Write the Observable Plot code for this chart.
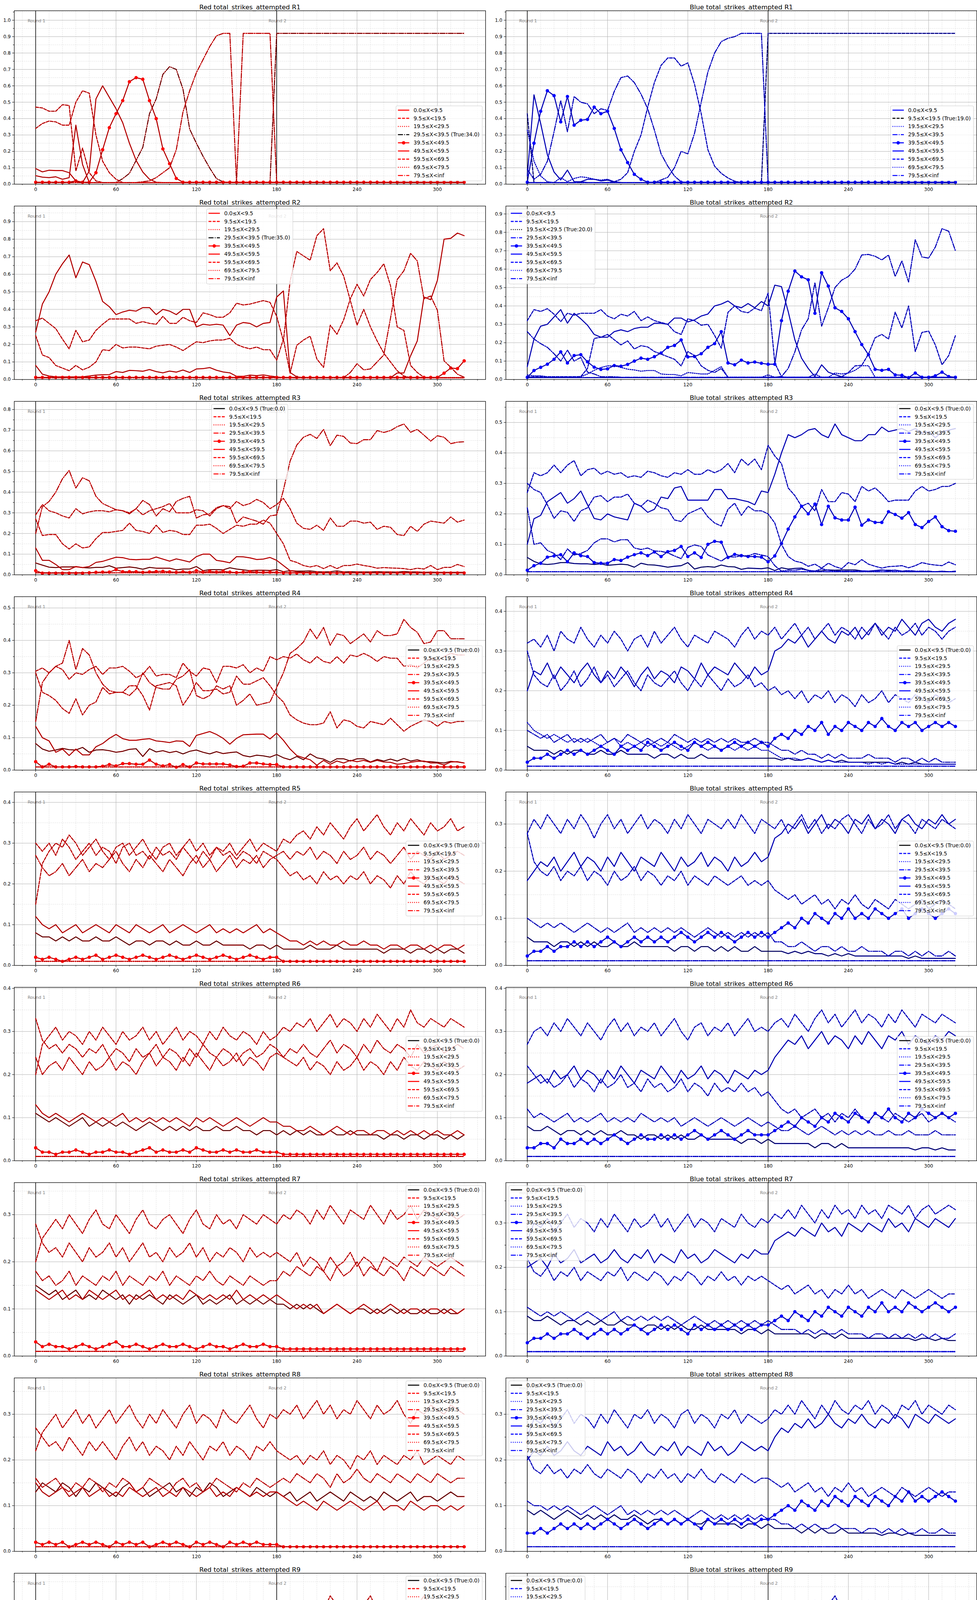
<!DOCTYPE html>
<html><head><meta charset="utf-8">
<script src="https://cdn.jsdelivr.net/npm/d3@7"></script>
<script src="https://cdn.jsdelivr.net/npm/@observablehq/plot@0.6"></script>
<style>
body{margin:0;background:#fff;}
#root{display:grid;grid-template-columns:1250px 1250px;width:2500px;}
#root svg{display:block;}
</style></head><body><div id="root"></div>
<script>
// ---------- axis / category data ----------
const xs = [0,5,10,15,20,25,30,35,40,45,50,55,60,65,70,75,80,85,90,95,100,105,110,115,120,125,130,135,140,145,150,155,160,165,170,175,180,185,190,195,200,205,210,215,220,225,230,235,240,245,250,255,260,265,270,275,280,285,290,295,300,305,310,315,320];
const binLabels = ["0.0≤X<9.5","9.5≤X<19.5","19.5≤X<29.5","29.5≤X<39.5","39.5≤X<49.5","49.5≤X<59.5","59.5≤X<69.5","69.5≤X<79.5","79.5≤X<inf"];
const majorX = [0,60,120,180,240,300];
const minorX = [-10,10,20,30,40,50,70,80,90,100,110,130,140,150,160,170,190,200,210,220,230,250,260,270,280,290,310,320,330];
const majorY = [0,0.1,0.2,0.3,0.4,0.5,0.6,0.7,0.8,0.9,1.0];
const minorY = [0.05,0.15,0.25,0.35,0.45,0.55,0.65,0.75,0.85,0.95,1.05];
const roundX = [0,180];
const roundLabels = ["Round 1","Round 2"];

// floor series (values in percent)
const F1 = [1,1,1,1,1,1,1,1,1,1, 1,1,1,1,1,1,1,1,1,1, 1,1,1,1,1,1,1,1,1,1, 1,1,1,1,1,1,1,1,1,1, 1,1,1,1,1,1,1,1,1,1, 1,1,1,1,1,1,1,1,1,1, 1,1,1,1,1];

// ---------- Red R1 (percent) ----------
const red_R1 = [
 [5.2,4.3,4,4.5,3,4,36,12,1,1, 1,1,1,1,1,1,1,1,1,1, 1,1,1,1,1,1,1,1,1,1, 1,1,1,1,1,1,1,1,1,1, 1,1,1,1,1,1,1,1,1,1, 1,1,1,1,1,1,1,1,1,1, 1,1,1,1,1],
 [47,46.5,44.5,44.5,48.5,48,8,22,7,2, 1,1,1,1,1,1,1,1,1,1, 1,1,1,1,1,1,1,1,1,1, 1,1,1,1,1,1,1,1,1,1, 1,1,1,1,1,1,1,1,1,1, 1,1,1,1,1,1,1,1,1,1, 1,1,1,1,1],
 F1,
 [1,1,1,1,1,1,1,1,1,1, 1,1,1,3.4,6.6,14.5,22.5,43,52,67, 71.7,70,58,33.6,25,17,9.8,3.4,1.4,1, 1,1,1,1,1,1,92,92,92,92, 92,92,92,92,92,92,92,92,92,92, 92,92,92,92,92,92,92,92,92,92, 92,92,92,92,92],
 [1.2,1.2,1.2,1.2,1.2,1.2,2,1.2,1.2,7, 21,34.5,43,51,62.5,65,64,51,40,21.5, 12.5,3.5,1.2,1.2,1.2,1.2,1.2,1.2,1.2,1.2, 1.2,1.2,1.2,1.2,1.2,1.2,1.2,1.2,1.2,1.2, 1.2,1.2,1.2,1.2,1.2,1.2,1.2,1.2,1.2,1.2, 1.2,1.2,1.2,1.2,1.2,1.2,1.2,1.2,1.2,1.2, 1.2,1.2,1.2,1.2,1.2],
 [9.5,7.5,8.5,8.3,8.3,7,2,1,8,52, 60,53,46,37.5,25,14.5,7.4,3,1.2,1, 1,1,1,1,1,1,1,1,1,1, 1,1,1,1,1,1,1,1,1,1, 1,1,1,1,1,1,1,1,1,1, 1,1,1,1,1,1,1,1,1,1, 1,1,1,1,1],
 [34,37,38.5,38,36,36,50,57,55.5,30, 14,7,3,1,1,1,1,1,1,1, 1,1,1,1,1,1,1,1,1,1, 1,1,1,1,1,1,1,1,1,1, 1,1,1,1,1,1,1,1,1,1, 1,1,1,1,1,1,1,1,1,1, 1,1,1,1,1],
 F1,
 [1,1,1,1,1,1,1,1,1,1, 1,1,1,1,1,1,1.5,2,4,7, 10,21,44,57,68,76,84,90.5,92,92, 1,92,92,92,92,92,1,1,1,1, 1,1,1,1,1,1,1,1,1,1, 1,1,1,1,1,1,1,1,1,1, 1,1,1,1,1]
];

// ---------- Blue R1 ----------
const blue_R1 = [
 [5,54.5,37,18,7.4,2.6,8.6,1.5,1.5,1, 1,1,1,1,1,1,1,1,1,1, 1,1,1,1,1,1,1,1,1,1, 1,1,1,1,1,1,1,1,1,1, 1,1,1,1,1,1,1,1,1,1, 1,1,1,1,1,1,1,1,1,1, 1,1,1,1,1],
 [43,1,1,1,1,1,1,1,1,1, 1,1,1,1,1,1,1,1,1,1, 1,1,1,1,1,1,1,1,1,1, 1,1,1,1,1,1,92,92,92,92, 92,92,92,92,92,92,92,92,92,92, 92,92,92,92,92,92,92,92,92,92, 92,92,92,92,92],
 [33,14,5,1.5,1,4,1.5,3.5,4.5,4, 3,2.5,3,1.5,1,1,1,1,1,1, 1,1,1,1,1,1,1,1,1,1, 1,1,1,1,1,1,1,1,1,1, 1,1,1,1,1,1,1,1,1,1, 1,1,1,1,1,1,1,1,1,1, 1,1,1,1,1],
 [9,3,6,14,32,51,32,53.5,50,49, 43,46,45,56.6,65,66,62,55,46,33, 18.5,11,5,1.4,1,1,1,1,1,1, 1,1,1,1,1,1,1,1,1,1, 1,1,1,1,1,1,1,1,1,1, 1,1,1,1,1,1,1,1,1,1, 1,1,1,1,1],
 [1.2,25,44.5,57,54,38,53.5,36,39,39.5, 47,43,44.5,34,21,13.2,6,3,1.2,1.2, 1.2,1.2,1.2,1.2,1.2,1.2,1.2,1.2,1.2,1.2, 1.2,1.2,1.2,1.2,1.2,1.2,1.2,1.2,1.2,1.2, 1.2,1.2,1.2,1.2,1.2,1.2,1.2,1.2,1.2,1.2, 1.2,1.2,1.2,1.2,1.2,1.2,1.2,1.2,1.2,1.2, 1.2,1.2,1.2,1.2,1.2],
 [1,1,1,1,1,1,1,1,1.5,3, 3,2,2.5,1.5,1,1,1,1,1,1, 1,1,1,1,1,1,1,1,1,1, 1,1,1,1,1,1,1,1,1,1, 1,1,1,1,1,1,1,1,1,1, 1,1,1,1,1,1,1,1,1,1, 1,1,1,1,1],
 [1,1,1,1,1,1,1,1,1,1, 1,1,1,1.5,3,7,20,30,47,62, 72.5,77,77,72,74,61,43,21,11,6.6, 3.8,1.8,1,1,1,1,1,1,1,1, 1,1,1,1,1,1,1,1,1,1, 1,1,1,1,1,1,1,1,1,1, 1,1,1,1,1],
 F1,
 [1,1,1,1,1,1,1,1,1,1, 1,1,1,1,1,1,1,1,1,1, 2.6,4.2,10,20,18.5,31,50,68.5,80,87, 89,90,92,92,92,92,1,1,1,1, 1,1,1,1,1,1,1,1,1,1, 1,1,1,1,1,1,1,1,1,1, 1,1,1,1,1]
];

// ---------- Red R2 ----------
const red_R2 = [
 [8,3,2,1.5,1.5,1.5,1.5,1.5,2,2.5, 2.7,2.8,4.5,4,5.2,5,4.7,5.7,4.5,3.8, 4.8,4.2,5.4,4,6,6.2,6.8,5.3,4.3,3.8, 1.8,1.8,2.5,2.2,2.6,2,1.5,1,1,1, 1,1,1,1,1,1,1,1,1,1, 1,1,1,1,1,1,1,1,1,1, 1,1,1,1,1],
 [25,14,12.5,8,6.5,5,8,5.5,7,10, 17,16.5,20,18,18.5,18.5,18,17.5,19,19.5, 20,18.5,16.5,19,21.5,21,22,22.5,22.5,23.5, 20,18.5,17.5,18.5,17,17,11,23,3.5,19.5, 22.5,24.7,11.7,6.9,31,25.8,34,46,54.3,47.6, 57,61,66,53.5,30,28,8,4,1.2,1, 1,1,1,1,1],
 F1,
 F1,
 [1.2,1.2,1.2,1.2,1.2,1.2,1.2,1.2,1.2,1.2, 1.2,1.2,1.2,1.2,1.2,1.2,1.2,1.2,1.2,1.2, 1.2,1.2,1.2,1.2,1.2,1.2,1.2,1.2,1.2,1.2, 1.2,1.2,1.2,1.2,1.2,1.2,1.2,1.2,1.2,1.2, 1.2,1.2,1.2,1.2,1.2,1.2,1.2,1.2,1.2,1.2, 1.2,1.2,1.2,1.2,1.2,1.2,1.2,1.2,1.2,1.2, 1.2,3.6,6.5,6.2,10.6],
 [27,43,50,60,66,71,58,67,65.5,56, 44.5,41.5,37,38.5,39.5,39,41,41,37,40, 39,37,40,40,30,31.5,31,31.5,31,25, 31,32.5,32,30,32,32.5,47,50.5,4,1.5, 1,1,1,1,1,1,1,1,1,1, 1,1,1,1,3.7,3.7,13.5,22,47,45.5, 56.5,80,80.5,83.5,82],
 [33.5,35,32,29,23,17.5,28,21.5,22.5,28, 31.5,34.5,34.5,34.5,34.5,32,33,32,31.5,36, 32,32,35.5,33.5,32.5,38,37,35.5,35.5,38, 43.5,42.5,43,44,45,44,36,22,56,73, 70.5,68,82,86,62,66.5,59,45,31,40, 30,22,15,10,5,2,1,1,1,1, 1,1,1,1,1],
 F1,
 [1,1,1,1,1,1,1,1,1,1, 1,1,1,1,1,1,1,1,1,1, 1,1,1,1,1,1,1,1,1,1, 1,1,1,1,1,1,1,1,1,1, 1,1,1,1,1,1,1,4,9,5.5, 6,10,14,35,57,62,72,67.6,46,47.6, 39.5,10.6,7,3,1.3]
];

// ---------- Blue R2 ----------
const blue_R2 = [
 [7,22,29,30,34,38,30.6,36,33,29.5, 24.5,23,23,26,27,26,27.7,28.4,28.4,30.6, 30.6,30,33.4,33.4,31.3,32.4,34.5,35.6,40,41, 42.7,40,39,41.3,39,42.4,40,51.3,50.5,37, 21.6,11.6,6,1.6,8,4,2.7,1.5,1.2,1, 1,1,1,1,1,1,1,1,1,1, 1,1,1,1,1],
 [32,38,37,38.5,35.5,31.5,36,35,36,36, 36,38,34.5,33,35.5,34.5,37,32,34,32, 31,30,26,24.5,33,32,29.5,30,24,17, 36.5,40,37,36.3,38.8,37.4,47,9,1.5,1, 1,1,1,1,1,1,1,1,1,1, 1,1,1,1,1,1,1,1,1,1, 1,1,1,1,1],
 F1,
 [26,22,19.5,17.5,14,10,16,10,12,4, 3,1.5,1.5,1.5,1.2,1.2,1.2,1.2,1.2,1.2, 1.2,1.2,1.2,1.2,1.2,1.2,1.2,1.2,1.2,1.2, 1.2,1.2,1.2,1.2,1.2,1.2,1.2,1.2,1.2,1.2, 1.2,1.2,1.2,1.2,1.2,1.2,1.2,1.2,1.2,1.2, 1.2,1.2,1.2,1.2,1.2,1.2,1.2,1.2,1.2,1.2, 1.2,1.2,1.2,1.2,1.2],
 [1.2,4.9,6.6,8.3,11,15,9,13,13.5,9.6, 6.7,5.5,5.8,7.6,7.2,8.2,10,11.6,11,12.4, 14.4,17.5,18.5,21.5,12.3,12.5,14,17.5,19.5,26, 9,8,10.5,9,9.5,8.8,8.3,8.3,32,48, 59,55.8,54.2,36,58,50.8,39,37,33,26, 19,13.5,5.5,5,5.5,2.5,2.3,1,3.5,1.2, 1.2,2,4,1.6,1.2],
 F1,
 [1.5,1.5,1.5,1.5,1.5,1.5,1.5,1.5,1.6,6, 22.3,23,24.5,21.6,18.8,21,16.6,18.4,17.7,15.2, 13.8,12.4,11,7.4,15.2,13,7.4,5,3.8,6, 1.2,1.2,1.2,1.2,1.2,1.2,1.2,1.2,1.2,1.2, 1.2,1.2,1.2,1.2,1.2,1.2,1.2,1.5,3.8,7.4, 7.7,13.8,22.7,24.5,22,36.6,28,40,15.2,25.6, 26.3,18.8,8,13,23.8],
 [2.5,2,2,1.5,1.5,1.5,1.5,1.5,1.5,3, 5,6.5,7.4,7.4,6.6,5.6,5.2,4.5,4.9,4.9, 3,2.7,2.7,2,3.8,3.4,3,3,5,7, 1.2,1.2,1.2,1.2,1.2,1.2,2.5,1.2,1.2,1.2, 1.2,1.2,1.2,3,1.2,1.2,3.5,3,3.5,5, 7.5,7.5,1.2,1.2,1.2,1.2,1.2,1.2,1.2,1.2, 1.2,1.2,1.2,1.2,1.2],
 [1,1,1,1,1,1,1,1,1,1, 1,1,1,1,1,1,1,1,1,1, 1,1,1,1,1,1,1,1,1,1, 1,1,1,1,1,1,1,1.2,1.6,6, 15,27,33,52.7,29,39,50,54,56,60, 67.7,68,67,65,67.7,56,64.5,53,76,66.6, 66,72,82,80.6,70]
];

// ---------- Red R3 ----------
const red_R3 = [
 [5.7,4.7,3.7,3.5,3.8,3.8,3.9,3.5,3.3,3.6, 3.6,4.4,3.2,3.5,3.8,3.4,2.7,3.6,3.2,3.2, 3.2,2.4,2.8,2.8,4,2,2.5,2.5,2.4,3.4, 2.8,2.4,2,2.2,2.2,2.1,2.5,1.5,2,1.8, 1.8,1.9,1.5,1.4,1.5,1.9,1.4,1.5,1.4,1.4, 1.4,1.5,1.4,1.4,1.3,1.6,1.4,1.4,1.2,1.3, 1.2,1.2,1.2,1.2,1.2],
 [29,34,31,30,28.5,27.5,32,29.5,30.5,31, 31,30.5,31.5,31,30,32,29,31,32,33, 34.5,30,30,30,31.5,31,28.5,32,33.5,32, 35.5,33.5,34.5,36.5,35,32,34,37,32,25, 22.5,22,24,21.5,27.5,23.5,23.5,26,26,25, 25.5,22,23.5,23,19.5,19,23.5,21,24.5,26, 25.5,25,28,25.5,26.5],
 F1,
 F1,
 [2,0.8,0.8,0.8,0.8,0.8,0.8,0.8,1,1.2, 1.3,1.3,2.5,1.5,1.5,1.5,1.2,1.4,1.6,1.7, 1.4,1.2,1.5,1.2,2,1.3,1.7,1.3,1.7,1.3, 1.1,1.3,1.5,1.3,1.2,1.3,1.2,0.9,0.9,0.9, 0.9,0.9,0.9,0.9,0.9,0.9,0.9,0.9,0.9,0.9, 0.9,0.9,0.9,0.9,0.9,0.9,0.9,0.9,0.9,0.9, 0.9,0.9,0.9,0.9,0.9],
 [13,7,7,5,2.5,2.5,4,3.5,4,6, 6.5,7.5,8.5,8.3,7.5,7.3,7.5,7.5,8.6,7.6, 6.6,7.7,7,6.2,8.8,10,10,7,6.5,5.8, 8.8,8.7,8.2,7.4,7.6,8.4,7,4.5,2,1.5, 1.2,1.2,1,1,1,1,1,1,1,1, 1,1,1,1,1,1,1,1,1,1, 1,1,1,1,1],
 [27,19,19.5,19.5,15,12.5,15,13,13.5,17.5, 20.5,20.5,21,21.5,25,21.5,21,20,24,20.5, 21.5,21,19.5,19.5,24,24,24.5,22.5,20,22, 24,23.5,24.5,24.5,26.5,25,20,15,7,6, 4.5,3.8,4.5,3,4.5,3,4.5,4.5,5.2,4.5, 4,3.2,3.5,3.3,3.2,3,2.5,3.2,2.8,4.5, 2.5,3.6,3.6,5,4],
 F1,
 [20,33,35.5,40,46.5,50.5,42,47,45.5,38, 34.5,33,31.5,31,29.5,32,36,34,28.5,32, 30.5,35.5,37,38,27.5,29,29.5,32.5,33.5,33, 25,28,27,26,24.5,28.5,29,41,55,62.8, 66.6,68,66,70.4,62.5,67.6,67,63.8,63.5,65.4, 65.4,69.8,68.9,69.8,71.7,73,69,70.4,67.6,64.7, 67.3,66.6,63.5,64.2,64.4]
];

// ---------- Blue R3 ----------
const blue_R3 = [
 [5.7,4.4,3.6,3.4,3.6,4,4,3.7,3.6,3.6, 3.4,3.6,3.1,3.3,3.5,3.3,2.5,3.8,3.3,3.2, 2.9,2.5,2.8,3,4,1.9,2.5,2.7,2.5,3.2, 2.7,2.6,1.8,2.2,2.1,2,2.3,1.4,2.3,1.9, 2.1,2.2,1.4,1.2,1.3,1.6,1.5,1.6,1.6,1.6, 1.3,1.2,1.4,1.6,1.3,1.5,1.2,1.1,1,1, 1,1,1.1,1,1],
 [27,33.5,32.5,33.5,36,33.5,36,37.5,32.5,34.5, 35,33,34,33,33.5,32,32.5,32,34,33.5, 32.5,32,33.5,33,34.5,33,33,34.5,33.5,34.5, 36.5,33.5,38,36,38,34.5,42.5,39,36.5,28.5, 26,22.5,23.5,21,28,24,24,27,26.5,24, 29,27.5,28.5,26.5,24,24.5,24.5,24.5,27.5,29, 27.5,28,29,29,30],
 F1,
 F1,
 [1.5,3,3.8,5.8,6.2,6.6,4.3,7.2,6.3,6, 4,3.8,3.8,5,4.7,5.8,6.6,7.2,6.3,7.5, 6,7.6,8,9.3,6,7.2,5.7,10,11,10.7, 5.7,6.7,6.3,6,6,5.8,4.3,6.2,10.3,15, 19,22.5,20,23.2,16.5,22.5,18.7,18,18,22.2, 16.3,18,17.2,17.2,20.7,19.8,18.6,20.4,16.5,15.5, 17.5,19,15.8,14.5,14.3],
 [10,18.4,19.5,24,25.5,27,23.5,25,27.5,23, 18.5,18,20,19,18.5,18,23.5,22.5,20.5,21.5, 25.5,25,28.5,29,24.5,24.5,24.5,24.5,28,28, 25,25,24.5,24,23,27.5,27,33,40,46, 45,46,47.5,48,46,45,49.5,46,45,44, 44,46,46,48.5,47,47.5,48,47,48,46.5, 47,45,47,47.5,48],
 [30,28,27,23,18.5,21,20.5,17.5,21,22, 25.5,26,24,25.5,25.5,26.5,23.5,22.5,24.5,23.5, 22,21.5,18,17.5,20,21,22,19,17,16, 21.5,23.5,19.5,22.5,21,21,20,17,10,6, 4.5,4,2.8,3.5,2.2,3.8,2.7,2,4,3.3, 5,3.5,2.8,2.2,2.7,2.8,3,2.3,3,4, 3.5,3.2,3,4.2,3.3],
 F1,
 [22,10,10.5,8,7,5,8.5,6.5,7,8, 10.5,11.8,11.8,10.8,11.5,11.5,8.8,8.3,8.8,7.8, 7.7,7.2,6.2,5.3,9,9.8,9.3,6.5,5.5,4.5, 6,5.8,6.3,6.2,7,6.5,6,3,1.2,1.5, 1.5,1.8,1.5,1.2,2,1.5,1.2,1.2,1.2,1.2, 1.2,1.2,1.3,1.5,1.5,1.5,1.2,1.4,1.2,1.2, 1.2,1,1.2,1,1.2]
];

// ---------- Red R4 ----------
const red_R4 = [
 [8.2,6.5,5.8,6.2,6.7,6.3,6.2,7,5.5,6.2, 6.3,6,5.5,5.8,6.4,6.6,4.2,6.6,5.6,6, 5.4,5.8,5,5.8,6.2,5.5,5,5.7,5.1,5.4, 5.6,4.5,4.1,4.6,4.4,4,4.8,3.8,3.2,4.2, 3.2,5,3.8,3.4,2.4,3.5,3.5,2.8,3.5,3.5, 2.5,3.3,2.8,3.4,2.8,3.6,2.8,3.2,2.6,2.6, 2.4,2.2,2.7,2.5,2.2],
 [30.5,31.5,30,32,31,28,30,29.5,31,32, 29.5,31.5,31.5,32,30.5,28.5,29.5,32,29,29.5, 29.5,28.5,33,30.5,29,31.5,31,27,32,32, 31.5,32.5,30,31.5,30.5,35,34,35,34.5,35.8, 34,33,35,33.5,33,35,33,35.5,35,36, 35,33.5,35,34.5,34.5,32,32.5,31.5,33,34.5, 33.5,35,36,35.5,35.5],
 F1,
 F1,
 [2.6,1,1.8,1,1,1,1.1,1,1,1, 1.2,1.7,1.3,2,2,1.8,1.8,3.1,1.8,1.3, 1.7,0.9,1.7,1,2.2,1.9,1.9,1.9,1.9,1.6, 1.1,1.2,2.2,2.2,1.9,1.7,1.7,1,1,1, 1,1,1,1,1,1,1,1,1,1, 1,1,1,1,1,1,1,1,1,1, 1,1,1,1,1],
 [13.5,10,9,5.5,6.5,4.5,6.5,4.7,4.7,7.2, 8.2,9.8,11,9.7,9.2,9.2,9.5,9.7,9,8.8, 8.5,9,8.9,7.3,10.7,11.3,11.9,11,9.8,8, 9.8,10.9,11,11.1,11.1,9.6,11.4,9.2,6.5,4.5, 3.8,3.2,1.5,3,1.8,2.8,2.2,3,2.6,3, 2.4,3,2.5,2.4,1.8,2,2.4,2.7,2.8,2.2, 2.2,1.6,2.5,2.6,2.2],
 [30,24,23,21.5,19,17.5,22,17,20,21, 25.5,23.5,24,24,26,26,23,18.5,26,26.5, 27,26,20,23,27,24.5,24.5,25,23.5,24, 29,26.5,26.5,27.5,28.5,26,23,21,17,15.5, 14.5,14,14,14.5,18,13,15.5,15,13.5,13, 15,14.5,14,16,14,12,13.5,14.5,15.5,15, 13.5,15,14.5,15,15],
 F1,
 [15,27,30,32,33,40,31,37.5,35.5,30, 26.5,24.5,24,24,23,25,30,27,25.5,25, 25,28,29,31,23,22,23,26,25,26, 20,21.5,23.5,20,20.5,21,25.5,30,36,37.5, 39.5,43.5,40.5,44,38.5,42,41.5,39,40.5,42, 39.5,43,41.5,41.5,42,46.5,44,42.5,39,39.5, 43,43,40.5,40.5,40.5]
];

// ---------- Blue R4 ----------
const blue_R4 = [
 [6,5,5,5,4,5,4,5,5,4, 4,5,4,4,5,4,4,4,4,3, 4,4,3,4,3,3,4,3,3,3, 3,3,3,3,3,3,3,3,2.5,3, 2.5,2.5,3,2.5,2,2.5,2,2.5,2,2, 2,2,2,2,2,1.5,2,1.5,2,1.5, 1.5,1.5,1.5,1.5,1.5],
 [32,33,31,34,30,35,33,32,36,33, 31,34,32,35,33,30,33,34,31,35, 32,34,36,33,31,34,33,32,35,34, 33,31,34,36,33,35,34,36,33,35, 37,34,36,33,35,37,34,36,35,33, 36,34,37,35,33,36,34,35,37,34, 36,35,33,35,36],
 [12,10,9,8,9,8,7,8,7,8, 7,6,7,8,6,7,6,7,6,7, 6,7,6,5,6,7,6,5,6,5, 6,5,6,5,6,5,5,4,3,3, 3,2.5,3,2.5,2,2.5,2,2,2,2, 2,1.5,2,1.5,2,1.5,1.5,1.5,1.5,1.5, 1.5,1.5,1.5,1.5,1.5],
 F1,
 [2,3,3,4,3,4,5,4,5,4, 5,6,5,4,6,5,6,5,7,6, 5,6,7,6,5,7,6,7,6,5, 6,7,6,7,6,7,6,8,9,8, 10,9,11,10,12,9,11,10,12,11, 10,12,11,13,11,10,12,11,12,10, 11,12,11,12,11],
 [20,25,24,27,23,26,24,22,25,27, 24,22,25,23,26,24,21,24,26,23, 25,24,22,26,25,23,27,24,26,25, 24,27,25,23,26,24,25,30,31,33, 32,34,31,33,35,33,32,35,34,36, 33,35,37,34,36,35,38,36,34,37, 38,36,35,37,38],
 [30,24,22,21,24,20,22,25,21,23, 26,22,24,21,23,25,22,20,24,22, 21,23,25,22,20,23,21,24,22,20, 23,21,22,24,21,22,20,21,19,20, 18,20,17,19,18,20,17,19,18,16, 19,17,18,20,17,19,18,17,19,18, 17,19,18,17,18],
 F1,
 [10,9,8,9,7,8,9,7,8,7, 8,9,7,8,7,9,8,7,8,7, 8,7,9,8,7,8,7,8,7,8, 7,8,7,7,8,7,7,6,5,5, 4,5,4,4,3,4,3,4,3,3, 3,4,3,3,3,2,3,3,2,3, 2,3,2,2,2]
];

// ---------- Red R5 ----------
const red_R5 = [
 [8,7,7,6,7,6,7,6,6,7, 6,6,7,6,5,6,6,5,6,6, 5,6,5,5,6,5,5,6,5,5, 5,5,4,5,5,4,5,4,4,4, 4,5,4,4,4,5,4,4,4,4, 4,4,3,4,4,4,3,4,4,3, 4,3,4,4,3],
 [15,25,28,30,29,32,30,27,29,31, 28,26,29,30,27,29,31,28,26,29, 30,27,29,31,28,30,27,29,28,30, 27,29,31,28,30,29,28,31,30,32, 33,31,34,32,35,33,31,34,36,33, 35,37,34,32,35,33,36,34,32,35, 33,34,36,33,34],
 F1, F1,
 [2,1.5,2,1.5,1,1.5,2,1.5,2,2.5, 1.5,2,2.5,2,1.5,2,2.5,2,1.5,2, 2.5,2,1.5,2,2.5,2,1.5,2,2.5,2, 1.5,2,2.5,2,1.5,2,2,1,1,1, 1,1,1,1,1,1,1,1,1,1, 1,1,1,1,1,1,1,1,1,1, 1,1,1,1,1],
 [12,10,9,10,8,9,10,8,9,10, 9,8,10,9,8,10,9,8,9,10, 8,9,10,9,8,9,10,8,9,8, 9,8,9,10,8,9,8,7,6,6, 5,6,5,6,5,5,6,5,5,6, 5,5,4,5,5,4,5,5,4,5, 4,5,5,4,5],
 [30,28,30,27,31,29,26,28,30,27, 29,28,25,29,30,27,28,26,29,27, 28,26,29,27,25,28,26,29,27,28, 26,28,27,25,28,27,26,24,22,23, 21,22,20,23,21,22,20,22,21,23, 20,22,21,19,22,20,23,21,20,22, 21,20,22,21,20],
 F1,
 [27,24,22,23,25,22,24,26,23,25, 24,26,28,25,23,26,24,27,25,23, 26,24,22,25,27,24,26,23,25,27, 24,26,25,27,24,26,27,28,26,28, 27,29,26,28,27,25,28,26,27,29, 26,28,27,25,27,29,26,28,27,26, 28,26,27,28,27]
];

// ---------- Blue R5 ----------
const blue_R5 = [
 [6,5,5,5,4,5,5,4,5,4, 5,4,4,5,4,4,5,4,4,4, 4,4,3,4,4,3,4,4,3,4, 3,4,3,3,4,3,3,3,3,2.5, 3,2.5,3,2.5,2.5,2,2.5,2,2.5,2, 2,2,2,2,2,2,2,1.5,2,1.5, 1.5,1.5,1.5,1.5,1.5],
 [28,31,29,32,30,28,31,29,32,30, 27,30,32,29,31,28,30,32,29,31, 30,28,31,29,32,30,28,31,30,29, 31,29,32,30,28,31,30,29,31,28, 30,32,29,31,28,30,29,31,32,30, 28,31,29,30,32,29,31,30,28,31, 30,29,31,30,29],
 F1, F1,
 [2,3,3,4,3,4,4,5,4,5, 4,5,6,5,4,5,6,5,6,5, 6,5,6,7,6,5,6,7,6,7, 6,5,6,7,6,7,6,7,8,9, 8,10,9,11,10,9,11,10,12,10, 11,10,12,11,10,11,12,10,11,12, 11,10,11,12,11],
 [18,20,22,21,23,20,22,24,21,23, 22,20,23,21,24,22,20,23,22,21, 24,22,20,23,21,22,24,21,23,22, 20,23,21,22,24,22,23,27,28,30, 29,31,28,30,32,29,31,30,28,31, 30,32,29,31,30,28,31,32,30,29, 31,30,32,30,31],
 [28,22,20,19,21,18,20,19,21,18, 20,19,17,20,18,19,21,18,20,19, 17,19,18,20,17,19,18,17,19,18, 17,18,19,17,18,17,18,16,15,14, 15,13,14,15,13,14,12,14,13,15, 13,12,14,13,12,14,13,12,13,14, 12,13,14,13,12],
 F1,
 [10,9,8,9,8,9,8,7,8,9, 8,7,8,7,8,9,7,8,7,8, 7,8,7,8,7,6,7,8,7,6, 7,6,7,6,7,6,7,5,5,4, 4,5,4,3,4,4,3,4,3,3, 4,3,3,3,2,3,3,2,3,2, 3,2,2,3,2]
];

// ---------- Red R6 ----------
const red_R6 = [
 [11,10,9,10,9,8,9,10,8,9, 8,9,8,9,8,7,8,9,8,7, 8,7,8,7,8,7,7,8,7,7, 8,7,7,6,7,7,6,7,6,7, 6,7,6,6,7,6,6,7,6,6, 6,6,5,6,6,5,6,6,5,6, 6,5,6,5,6],
 [20,27,29,31,28,30,29,27,30,28, 31,29,27,30,28,29,31,28,30,27, 29,31,28,30,29,27,30,28,31,29, 28,30,29,27,30,28,29,31,30,32, 31,33,30,32,34,31,33,32,30,33, 31,34,32,30,33,31,35,32,31,33, 32,31,33,32,31],
 F1, F1,
 [3,2,2,1.5,2,2,2.5,2,1.5,2, 2,2.5,2,2,1.5,2,2.5,3,2,2.5, 2,2,2.5,2,3,2.5,2,2,2.5,2, 2.5,2,2,2.5,2,2,2,1.5,1.5,1.5, 1.5,1.5,1.5,1.5,1.5,1.5,1.5,1.5,1.5,1.5, 1.5,1.5,1.5,1.5,1.5,1.5,1.5,1.5,1.5,1.5, 1.5,1.5,1.5,1.5,1.5],
 [13,11,10,11,10,9,10,11,10,9, 10,9,10,11,9,10,9,10,9,10, 9,10,9,8,10,9,10,9,8,9, 10,9,8,9,10,9,9,8,8,7, 7,8,7,6,7,8,7,6,7,7, 6,7,7,6,7,6,7,6,7,6, 7,6,6,7,6],
 [33,28,26,27,25,27,26,24,26,25, 27,24,26,25,23,26,24,25,27,24, 26,25,23,26,24,27,25,24,26,25, 23,25,26,24,25,27,26,24,23,22, 24,21,23,22,20,23,21,22,24,21, 23,22,20,23,21,24,22,21,23,22, 21,23,22,21,22],
 F1,
 [24,20,22,23,21,24,22,20,23,21, 22,24,21,23,22,20,23,25,22,24, 23,21,24,22,25,23,21,24,22,23, 25,22,24,23,21,24,25,24,26,25, 27,25,24,26,28,25,27,26,24,27, 25,28,26,25,27,26,24,27,25,26, 27,25,26,27,26]
];

// ---------- Blue R6 ----------
const blue_R6 = [
 [8,7,7,8,7,6,7,7,6,7, 6,7,6,6,7,6,6,5,6,6, 5,6,5,6,5,5,6,5,5,5, 5,5,4,5,5,4,5,4,4,4, 4,4,4,3,4,4,3,4,3,3, 3,3,3,3,3,3,3,3,2.5,3, 3,2.5,3,2.5,2.5],
 [27,30,31,29,32,30,33,31,29,32, 30,28,31,33,30,32,29,31,30,32, 29,31,33,30,28,31,32,29,31,30, 32,29,31,33,30,31,30,32,33,31, 34,32,30,33,35,32,34,31,33,35, 32,34,33,31,34,32,35,33,31,34, 33,32,34,33,32],
 F1, F1,
 [3,3,4,4,3,5,4,4,5,4, 5,4,5,6,5,4,5,6,5,5, 6,5,6,5,6,7,6,5,6,7, 6,5,6,7,6,6,6,7,8,9, 8,10,9,8,10,9,11,10,9,11, 10,9,11,10,12,10,9,11,10,12, 11,10,11,10,11],
 [18,19,20,18,21,19,20,22,19,21, 20,18,21,19,22,20,18,21,20,19, 22,20,18,21,19,20,22,19,21,20, 18,21,20,19,21,20,21,24,26,28, 27,29,26,28,30,27,29,28,26,29, 27,30,28,26,29,28,30,27,29,28, 27,29,28,30,29],
 [22,20,18,19,17,18,20,17,19,18, 16,19,17,18,20,17,18,16,19,17, 18,16,17,19,16,18,17,15,18,16, 17,16,18,16,17,15,16,14,12,11, 12,10,11,12,10,11,9,11,10,12, 10,9,11,10,9,11,10,9,10,11, 9,10,11,10,9],
 F1,
 [12,10,11,10,9,10,11,9,10,9, 10,11,9,10,9,10,9,11,10,9, 10,9,10,8,9,10,9,8,9,10, 9,8,9,10,9,8,9,8,7,7, 8,7,6,7,8,7,6,7,6,7, 6,7,6,6,7,6,6,7,6,6, 6,7,6,6,6]
];

// ---------- Red R7 ----------
const red_R7 = [
 [15,14,13,14,12,13,14,12,13,12, 14,13,12,13,11,13,12,13,12,11, 13,12,11,12,13,11,12,11,12,13, 11,12,11,12,11,12,11,11,10,11, 10,11,10,9,10,11,10,9,10,10, 9,10,9,10,9,10,9,9,10,9, 9,10,9,9,10],
 [20,25,27,29,27,30,28,26,29,31, 28,27,30,28,26,29,31,28,27,29, 30,28,26,29,31,28,27,30,28,29, 27,30,29,28,30,29,28,30,29,31, 30,28,31,29,32,30,28,31,30,29, 32,30,28,31,29,30,32,29,31,30, 29,31,30,29,30],
 F1, F1,
 [3,2,2.5,2,2,1.5,2,2.5,2,1.5, 2,2.5,3,2,2,2.5,2,1.5,2,2.5, 2,2,2.5,2,1.5,2,2.5,2,2,1.5, 2,2.5,2,2,2.5,2,2,1.5,1.5,1.5, 1.5,1.5,1.5,1.5,1.5,1.5,1.5,1.5,1.5,1.5, 1.5,1.5,1.5,1.5,1.5,1.5,1.5,1.5,1.5,1.5, 1.5,1.5,1.5,1.5,1.5],
 [14,13,12,13,14,12,13,12,14,13, 12,13,14,12,13,12,13,14,12,13, 12,13,12,14,13,12,13,12,13,12, 14,12,13,12,13,12,13,12,11,10, 11,10,11,9,10,11,10,9,10,11, 10,9,10,11,10,9,10,10,9,10, 10,9,10,9,10],
 [28,24,22,23,21,24,22,20,23,21, 22,24,21,23,20,22,24,21,22,20, 23,21,22,24,21,23,20,22,21,23, 22,20,23,21,22,21,22,21,20,22, 19,21,20,18,21,19,20,22,19,21, 20,18,21,20,19,21,20,19,21,20, 19,20,21,20,19],
 F1,
 [18,16,17,15,16,18,15,17,16,15, 17,16,18,15,17,16,15,17,16,18, 15,17,16,15,17,16,18,16,15,17, 16,15,17,16,15,16,16,18,17,19, 18,17,19,18,16,19,17,18,20,17, 19,18,17,19,18,16,19,18,17,19, 18,17,19,18,17]
];

// ---------- Blue R7 ----------
const blue_R7 = [
 [9,8,8,9,8,7,8,8,7,8, 7,8,7,7,8,7,7,6,7,7, 6,7,6,7,6,6,7,6,6,6, 6,6,5,6,6,5,6,5,5,5, 5,5,5,4,5,5,4,5,4,4, 4,4,4,4,4,4,4,4,3.5,4, 4,3.5,4,3.5,3.5],
 [26,30,29,31,28,30,32,29,31,30, 28,31,29,32,30,28,31,29,30,32, 29,31,28,30,32,29,31,30,28,31, 30,29,32,30,29,31,30,32,31,33, 31,34,32,30,33,31,34,32,33,31, 34,32,33,31,34,33,32,34,31,33, 34,32,33,34,33],
 F1, F1,
 [3,4,4,5,4,5,5,6,5,4, 5,6,5,6,5,6,7,6,5,6, 7,6,7,6,5,7,6,7,6,7, 6,7,6,7,6,7,7,8,9,8, 10,9,8,10,9,11,10,9,11,10, 9,11,10,12,10,11,10,12,11,10, 11,12,11,10,11],
 [20,21,22,20,23,21,22,24,21,22, 23,21,22,24,22,21,23,22,24,21, 23,22,21,24,22,23,21,22,24,23, 22,21,23,22,24,23,23,26,27,28, 27,29,28,27,30,28,29,27,30,29, 28,30,29,28,31,29,30,28,31,30, 29,31,30,29,31],
 [22,19,18,20,17,19,18,20,17,19, 18,17,19,18,20,17,19,18,17,19, 18,16,18,17,19,18,16,18,17,19, 17,18,16,18,17,18,17,16,15,16, 14,15,16,14,15,13,15,14,16,14, 15,13,14,15,14,13,15,14,13,14, 15,14,13,14,14],
 F1,
 [11,10,9,10,9,10,9,8,9,10, 9,8,9,10,8,9,8,9,8,9, 8,9,8,7,8,9,8,7,8,7, 8,7,8,7,8,7,8,7,6,6, 6,5,6,5,6,5,5,6,5,5, 5,4,5,5,4,5,4,5,4,5, 4,5,4,4,5]
];

// ---------- Red R8 ----------
const red_R8 = [
 [13,15,14,13,15,14,12,14,13,15, 14,13,12,14,15,13,14,12,13,14, 15,13,14,12,14,13,15,14,12,13, 14,13,12,14,13,12,13,12,13,11, 12,13,11,12,13,12,11,13,12,11, 12,11,13,12,11,12,13,11,12,12, 11,12,13,12,12],
 [22,26,28,30,27,29,31,28,30,27, 29,31,28,30,32,29,27,30,28,31, 29,27,30,32,28,30,29,27,31,29, 28,30,32,29,27,30,29,31,30,32, 29,31,33,30,32,29,31,30,33,31, 29,32,30,31,33,30,28,31,30,32, 31,30,32,31,30],
 F1, F1,
 [2,1.5,2,1.5,2,1,1.5,2,1.5,2, 1.5,1,2,1.5,2,1.5,2,1,1.5,2, 1.5,2,1.5,1,2,1.5,2,1.5,1,2, 1.5,2,1.5,2,1.5,1.5,1.5,1,1,1, 1,1,1,1,1,1,1,1,1,1, 1,1,1,1,1,1,1,1,1,1, 1,1,1,1,1],
 [15,13,12,13,14,12,13,14,12,13, 14,12,13,12,14,13,12,13,14,12, 13,12,14,13,12,13,14,12,13,12, 14,13,12,13,12,13,13,12,11,10, 11,10,9,11,10,9,10,11,10,9, 10,11,9,10,10,9,11,10,9,10, 10,9,10,9,10],
 [27,25,23,24,22,25,23,21,24,22, 24,22,20,23,25,22,24,21,23,22, 20,23,21,24,22,20,23,22,24,21, 23,22,20,23,22,24,22,21,20,21, 19,21,20,22,19,21,20,18,21,20, 22,19,21,20,19,21,20,22,19,20, 21,20,19,21,20],
 F1,
 [16,14,15,16,14,13,15,14,16,15, 13,15,14,16,15,13,14,16,15,14, 13,15,16,14,15,13,14,16,15,14, 13,15,14,16,15,14,15,16,15,17, 16,15,17,16,14,17,15,16,18,16, 15,17,16,15,17,16,15,17,16,15, 17,16,15,16,16]
];

// ---------- Blue R8 ----------
const blue_R8 = [
 [9,8,9,8,7,8,9,8,7,8, 7,8,7,8,7,7,8,7,6,7, 7,6,7,6,7,6,6,7,6,6, 6,6,5,6,6,5,6,5,5,5, 5,4,5,4,5,4,4,5,4,4, 4,4,4,3.5,4,4,3.5,4,3.5,3.5, 3.5,3.5,3.5,3.5,3.5],
 [25,29,28,30,27,29,31,28,30,29, 27,30,28,31,29,27,30,29,31,28, 30,29,27,30,31,28,30,29,27,30, 29,31,28,30,29,28,29,31,30,32, 30,33,31,29,32,30,33,31,30,32, 31,33,30,32,31,29,32,31,33,30, 32,31,30,32,31],
 F1, F1,
 [4,4,5,4,5,6,5,6,5,6, 5,6,7,6,5,6,7,6,5,6, 7,6,7,6,7,6,5,7,6,7, 6,7,6,7,6,7,7,8,9,10, 9,11,10,9,11,10,12,11,10,12, 11,10,12,11,10,12,11,13,11,12, 11,12,13,12,11],
 [20,22,21,23,21,22,24,22,21,23, 22,21,24,22,23,21,22,24,22,21, 23,22,24,21,23,22,21,24,22,23, 21,22,24,23,22,23,22,25,27,26, 28,27,29,27,28,30,28,27,29,28, 30,28,27,29,28,30,29,27,30,29, 28,30,29,28,29],
 [21,18,17,19,17,18,16,18,17,19, 17,16,18,17,16,18,17,15,17,16, 18,16,17,15,17,16,18,16,15,17, 16,15,17,16,15,16,16,15,14,15, 13,14,15,13,14,12,14,13,15,13, 14,12,13,14,13,12,14,13,12,13, 14,13,12,13,13],
 F1,
 [11,10,10,9,10,9,10,9,8,9, 10,9,8,9,10,8,9,8,9,8, 9,8,9,8,7,8,9,8,7,8, 7,8,7,8,7,8,7,7,6,6, 5,6,5,6,5,5,6,5,5,5, 4,5,5,4,5,4,5,4,4,5, 4,4,5,4,4]
];

// ---------- Red R9 ----------
const red_R9 = [
 [19,17,18,16,17,15,17,16,18,16, 15,17,16,15,17,16,14,16,15,17, 15,16,14,15,16,14,15,16,14,15, 14,15,14,15,13,14,14,13,14,13, 14,12,13,14,12,13,14,13,12,13, 14,12,13,12,13,14,12,13,12,13, 12,13,12,13,12],
 [22,26,28,30,27,29,31,28,27,30, 28,26,29,31,28,30,27,29,28,30, 27,29,31,28,26,29,28,30,27,29, 28,30,29,27,30,28,29,30,29,31, 30,28,31,29,32,30,28,31,29,30, 32,29,31,30,28,31,29,30,32,30, 29,31,30,29,30],
 F1, F1,
 [3,2,3,2.5,3,4,3,2.5,3,3.5, 3,2.5,3,3.5,4,3,2.5,3,3.5,3, 2.5,3,4,3,2.5,3,3.5,3,2.5,3, 3.5,3,2.5,3,3.5,3,3,2,2,1.5, 2,1.5,2,2,1.5,2,2,1.5,2,2, 1.5,2,2,1.5,2,2,1.5,2,2,1.5, 2,2,1.5,2,2],
 [12,13,11,12,13,11,12,13,12,11, 13,12,11,12,13,11,12,11,13,12, 11,12,13,11,12,11,12,13,11,12, 11,12,11,12,11,12,12,11,10,11, 10,11,10,9,11,10,9,10,11,10, 9,10,11,10,9,10,11,10,9,10, 10,11,10,9,10],
 [27,24,22,24,21,23,25,22,24,21, 23,22,24,21,23,25,22,24,21,23, 22,20,23,21,24,22,21,23,20,22, 24,21,23,22,21,23,22,21,20,22, 19,21,20,22,20,19,21,20,22,19, 21,20,19,21,20,22,19,21,20,19, 21,20,19,20,21],
 F1,
 [14,15,16,14,15,17,15,14,16,15, 17,15,14,16,15,14,16,17,15,14, 16,15,17,14,16,15,14,16,15,17, 15,14,16,15,14,16,15,16,17,16, 18,16,17,15,17,16,18,17,16,18, 17,16,18,17,15,17,16,18,17,16, 17,18,16,17,17]
];

// ---------- Blue R9 ----------
const blue_R9 = [
 [9,8,8,9,7,8,8,7,8,7, 8,7,7,8,7,6,7,7,6,7, 6,7,6,6,7,6,6,5,6,6, 5,6,5,6,5,5,5,5,5,4, 5,4,4,5,4,4,4,4,4,4, 4,3.5,4,4,3.5,4,3.5,3.5,4,3.5, 3.5,3.5,3.5,3.5,3.5],
 [25,29,28,30,28,30,29,27,30,29, 31,28,30,29,27,30,28,31,29,28, 30,29,27,30,28,29,31,28,30,29, 28,30,29,31,28,30,29,31,30,32, 30,31,29,32,30,31,33,30,32,31, 30,32,31,29,32,30,31,32,30,31, 32,30,31,32,31],
 F1, F1,
 [4,5,4,5,6,5,4,5,6,5, 6,5,6,7,6,5,6,7,6,5, 6,7,6,7,6,5,6,7,6,7, 6,7,6,7,6,7,7,8,9,10, 9,11,10,9,11,10,12,10,11,12, 11,10,12,11,12,10,11,12,11,13, 12,11,12,11,12],
 [21,22,21,23,22,21,23,22,24,22, 21,23,22,24,21,23,22,21,23,22, 24,22,21,23,22,24,23,21,23,22, 24,22,23,21,23,22,22,24,26,27, 26,28,27,26,28,27,29,27,26,28, 27,29,28,26,28,27,29,28,27,28, 29,27,28,29,28],
 [20,18,17,18,16,18,17,16,18,17, 16,18,17,15,17,16,18,16,15,17, 16,17,15,17,16,15,17,16,15,16, 17,15,16,15,17,16,16,15,14,13, 14,13,12,14,13,12,13,12,14,13, 12,13,12,11,13,12,13,12,11,12, 13,12,11,12,12],
 F1,
 [11,10,9,10,9,10,9,8,9,10, 9,8,9,8,9,8,9,8,9,8, 8,7,8,9,8,7,8,7,8,7, 8,7,8,7,8,7,7,7,6,6, 5,6,5,5,6,5,5,4,5,5, 4,5,4,5,4,5,4,4,5,4, 4,4,5,4,4]
];

// ---------- Red R10 ----------
const red_R10 = [
 [20,19,18,17,18,16,17,18,16,17, 15,17,16,15,17,16,15,16,17,15, 16,15,14,16,15,16,14,15,16,14, 15,14,15,14,15,14,14,13,14,15, 13,14,13,14,12,14,13,14,13,12, 14,13,12,13,14,13,12,13,14,13, 12,13,14,13,13],
 [24,27,29,27,30,28,26,29,31,28, 27,29,30,28,26,29,31,28,30,27, 29,28,30,27,29,31,28,27,30,28, 29,27,30,28,29,30,29,30,28,31, 29,30,32,29,31,30,28,31,29,30, 32,29,31,30,28,31,30,29,31,30, 29,31,30,29,30],
 F1, F1,
 [4,3,3.5,3,4,3,3.5,4,3,3.5, 3,4,3.5,3,4,3.5,3,4,3,3.5, 4,3,3.5,4,3,3.5,4,3,3.5,3, 4,3.5,3,4,3,3.5,3.5,2.5,2,2, 2.5,2,2,2.5,2,2,2.5,2,2,2.5, 2,2,2.5,2,2,2.5,2,2,2.5,2, 2,2.5,2,2,2],
 [12,11,12,13,11,12,11,12,13,11, 12,11,13,12,11,12,13,11,12,11, 12,13,11,12,11,13,12,11,12,11, 12,11,12,11,12,11,12,11,10,11, 10,9,11,10,9,10,11,9,10,10, 9,10,11,9,10,10,9,10,11,9, 10,10,9,10,10],
 [26,23,22,24,21,23,22,24,21,23, 22,20,23,21,24,22,20,23,21,22, 24,21,23,22,20,23,21,22,24,21, 23,20,22,21,23,22,22,20,19,21, 20,18,21,19,20,22,19,21,20,19, 21,20,18,21,19,20,21,19,20,21, 19,20,21,20,19],
 F1,
 [13,14,15,13,14,15,13,14,16,14, 13,15,14,13,15,14,16,14,13,15, 14,13,15,14,16,13,15,14,13,15, 14,16,14,13,15,14,15,16,15,17, 16,15,17,16,15,17,16,18,16,15, 17,16,15,17,16,18,16,17,15,16, 17,16,17,16,16]
];

// ---------- Blue R10 ----------
const blue_R10 = [
 [9,8,9,8,8,7,8,8,7,8, 7,7,8,7,7,6,7,7,6,7, 6,6,7,6,6,6,5,6,6,5, 6,5,5,6,5,5,5,5,4,5, 5,4,5,4,4,5,4,4,4,4, 4,4,4,3.5,4,4,3.5,4,3.5,4, 3.5,3.5,4,3.5,3.5],
 [26,29,30,28,31,29,30,32,29,31, 30,28,31,29,32,30,29,31,30,28, 31,29,32,30,28,31,30,29,32,30, 29,31,30,32,29,31,30,32,31,33, 32,30,33,31,34,32,31,33,35,32, 31,34,32,33,31,34,32,33,35,32, 33,34,32,33,34],
 F1, F1,
 [4,5,5,6,5,6,7,6,5,6, 7,6,7,8,7,6,7,8,7,6, 8,7,8,7,6,8,7,8,7,8, 7,8,7,8,9,8,8,9,10,11, 10,12,11,10,12,11,13,12,11,13, 12,11,13,12,14,12,13,12,14,13, 12,14,13,14,15],
 [21,22,23,21,22,24,22,21,23,22, 24,22,21,23,22,24,21,23,22,21, 23,22,24,22,21,23,22,24,21,23, 22,21,23,22,24,22,23,26,27,28, 27,29,28,30,28,27,29,28,30,28, 29,27,30,29,28,30,29,31,28,30, 29,30,29,30,30],
 [21,19,18,19,17,19,18,17,19,18, 16,18,17,19,17,16,18,17,19,16, 18,17,16,18,17,16,18,17,15,17, 16,18,16,17,15,17,16,15,14,15, 13,14,15,13,14,13,15,14,12,14, 13,14,12,13,14,12,13,14,12,13, 14,13,12,13,13],
 F1,
 [11,10,10,9,10,9,10,9,9,10, 9,8,9,10,9,8,9,8,9,8, 8,9,8,7,8,9,8,7,8,7, 8,7,7,8,7,7,7,6,6,5, 6,5,5,6,5,5,5,4,5,5, 4,5,4,4,5,4,4,4,5,4, 4,4,4,4,4]
];

// ---------- Red R11 ----------
const red_R11 = [
 [18,19,17,18,16,18,17,19,17,16, 18,17,16,18,17,15,17,16,18,16, 17,15,16,17,15,16,17,15,16,15, 17,16,15,16,15,16,16,15,16,14, 15,16,14,15,14,16,15,14,15,14, 16,14,15,14,15,16,14,15,14,15, 14,15,16,15,15],
 [22,26,27,29,26,28,27,25,28,27, 29,26,28,27,25,28,27,29,26,28, 27,25,28,27,29,26,28,27,26,28, 27,29,27,26,28,27,28,29,27,30, 28,27,29,28,30,27,29,28,27,29, 30,28,27,29,28,27,29,28,30,28, 27,29,28,27,28],
 F1, F1,
 [4,3,4,5,4,3,4,5,4,3.5, 4,5,4,3,4,5,4,3.5,4,5, 4,3,4,5,4,3.5,4,5,4,3, 4,5,4,3.5,4,4,4,3,2.5,3, 2.5,3,2.5,3,2.5,3,2.5,3,2.5,3, 2.5,3,2.5,3,2.5,3,2.5,3,2.5,3, 2.5,3,2.5,3,2.5],
 [13,12,13,11,12,13,12,11,13,12, 11,12,13,12,11,13,12,11,12,13, 12,11,12,13,11,12,13,12,11,12, 13,11,12,11,13,12,12,11,12,11, 10,11,12,10,11,10,12,11,10,11, 12,10,11,10,11,12,10,11,10,11, 11,10,11,10,11],
 [24,22,21,23,20,22,21,23,20,22, 21,23,20,22,21,19,22,20,22,21, 20,22,21,19,22,20,21,22,20,21, 22,20,21,22,20,21,21,20,19,21, 19,20,21,19,20,18,20,19,21,19, 20,18,20,19,18,20,19,20,18,19, 20,19,18,19,19],
 F1,
 [14,15,14,16,15,14,15,16,14,15, 13,15,14,16,14,15,13,15,14,16, 14,15,13,15,14,16,15,14,13,15, 14,16,14,15,14,15,15,16,15,17, 16,15,17,15,16,17,15,16,18,16, 15,17,16,15,17,16,18,16,15,17, 16,17,16,17,16]
];

// ---------- Blue R11 ----------
const blue_R11 = [
 [9,8,8,9,8,7,8,7,8,7, 7,8,7,6,7,7,6,7,6,6, 7,6,6,5,6,6,5,6,5,6, 5,5,6,5,5,5,5,5,4,5, 4,5,4,4,5,4,4,4,4,4, 4,4,3.5,4,4,3.5,4,3.5,4,3.5, 3.5,4,3.5,3.5,3.5],
 [27,30,29,31,30,32,29,31,33,30, 29,32,30,31,29,32,30,33,31,29, 32,30,31,33,30,29,32,31,30,32, 31,29,32,30,33,31,31,33,32,34, 32,31,34,32,35,33,31,34,32,33, 35,32,34,33,31,34,33,35,32,34, 33,34,35,33,34],
 F1, F1,
 [4,5,6,5,6,7,6,5,7,6, 7,8,7,6,8,7,8,7,6,8, 7,8,9,8,7,8,9,8,7,9, 8,9,8,9,8,9,9,10,12,13, 12,14,13,12,15,13,14,16,14,13, 15,14,16,15,14,16,15,14,16,15, 14,16,15,14,15],
 [22,24,23,25,22,24,23,25,24,22, 25,23,24,22,25,23,24,26,23,24, 22,25,23,24,26,23,25,24,22,25, 24,23,25,24,26,24,24,27,28,29, 28,30,29,28,30,29,31,29,28,30, 29,31,30,28,31,29,30,32,29,31, 30,29,31,30,31],
 [20,18,17,18,16,18,17,16,18,17, 15,17,16,18,16,15,17,16,18,15, 17,16,15,17,16,14,16,15,17,16, 15,16,14,16,15,16,15,14,13,14, 12,13,14,12,13,12,14,13,12,13, 12,11,13,12,11,13,12,11,12,13, 12,11,12,12,12],
 F1,
 [10,9,10,9,9,10,9,8,9,9, 8,9,8,9,8,8,9,8,8,7, 8,8,7,8,7,8,7,7,8,7, 7,8,7,7,7,7,7,6,6,5, 6,5,5,6,5,5,4,5,5,4, 5,4,5,4,4,5,4,4,4,5, 4,4,4,4,4]
];

// ---------- Red R12 ----------
const red_R12 = [
 [17,18,17,19,17,16,18,17,19,17, 16,18,17,16,18,17,19,17,16,18, 17,16,18,17,16,17,18,16,17,16, 18,17,16,17,16,17,17,16,17,15, 16,17,15,16,17,15,16,15,17,16, 15,16,17,15,16,15,16,17,15,16, 15,16,15,16,16],
 [23,27,28,30,27,29,28,31,28,27, 30,28,29,31,28,27,30,29,28,30, 27,29,31,28,30,27,29,28,30,28, 29,31,28,30,28,29,29,28,30,27, 29,28,30,27,29,28,27,29,28,30, 27,29,28,27,29,30,28,29,27,29, 28,29,28,27,28],
 F1, F1,
 [4,3,4,5,4,3,4,5,4,3, 4,5,4,3.5,4,5,4,3,4,5, 4,3,4,5,4,3.5,4,5,4,3, 4,5,4,3.5,4,4,4,3,3,2.5, 3,2.5,3,3,2.5,3,2.5,3,3,2.5, 3,2.5,3,2.5,3,3,2.5,3,2.5,3, 2.5,3,2.5,3,3],
 [13,12,13,14,12,13,12,14,13,12, 13,12,14,13,12,13,14,12,13,12, 14,13,12,13,12,14,13,12,13,12, 13,12,14,12,13,12,13,12,11,12, 11,12,11,10,12,11,12,11,10,11, 12,11,10,11,12,11,10,11,12,11, 10,11,12,11,11],
 [24,22,21,23,21,22,20,23,21,22, 20,22,21,23,20,22,21,20,22,21, 23,20,22,21,20,22,21,23,20,22, 21,20,22,21,20,21,21,20,19,20, 18,20,19,21,19,18,20,19,18,20, 19,18,20,19,18,19,20,18,19,20, 18,19,20,19,19],
 F1,
 [14,15,16,14,15,16,15,14,16,15, 14,16,15,17,15,14,16,15,14,16, 15,17,15,14,16,15,14,16,15,14, 16,15,14,16,15,15,15,16,17,16, 18,16,17,16,18,17,16,18,17,16, 18,17,16,18,17,16,18,17,16,17, 18,17,16,17,17]
];

// ---------- Blue R12 ----------
const blue_R12 = [
 [9,8,9,8,7,8,9,8,7,8, 7,8,7,7,8,7,6,7,7,6, 7,6,6,7,6,5,6,6,5,6, 5,6,5,5,6,5,5,5,4,5, 5,4,5,4,4,5,4,4,4,4, 4,4,4,3.5,4,4,3.5,4,4,3.5, 3.5,4,3.5,3.5,3.5],
 [28,31,30,32,29,31,33,30,32,31, 29,32,30,33,31,30,32,34,31,30, 33,31,32,30,33,31,30,32,34,31, 30,32,31,33,31,32,32,34,33,35, 33,36,34,32,35,33,37,34,33,36, 34,33,37,35,34,36,33,35,37,34, 36,35,34,36,35],
 F1, F1,
 [5,6,7,6,7,6,8,7,6,7, 8,7,8,9,7,8,7,9,8,7, 9,8,7,9,8,9,8,7,9,8, 9,8,9,8,9,8,9,10,12,13, 12,14,13,15,13,12,15,14,13,15, 14,16,14,13,16,15,14,16,15,14, 16,15,14,16,15],
 [22,24,23,22,25,23,24,22,25,24, 23,25,22,24,23,25,24,22,25,23, 24,26,23,25,24,22,25,24,23,25, 24,23,25,24,26,24,25,28,29,31, 30,32,31,29,32,30,33,31,30,33, 31,32,34,31,33,32,34,31,33,32, 34,33,31,33,34],
 [20,18,17,18,16,18,17,16,18,17, 15,17,16,18,16,15,17,16,18,15, 17,16,15,17,16,14,16,15,17,16, 15,16,14,16,15,16,15,14,13,14, 12,13,14,12,13,12,14,13,12,13, 12,11,13,12,11,13,12,11,12,13, 12,11,12,12,12],
 F1,
 [10,9,10,9,9,10,9,8,9,9, 8,9,8,9,8,8,9,8,8,7, 8,8,7,8,7,8,7,7,8,7, 7,8,7,7,7,7,7,6,6,5, 6,5,5,6,5,5,4,5,5,4, 5,4,5,4,4,5,4,4,4,5, 4,4,4,4,4]
];

const redData  = [red_R1, red_R2, red_R3, red_R4, red_R5, red_R6, red_R7, red_R8, red_R9, red_R10, red_R11, red_R12];
const blueData = [blue_R1, blue_R2, blue_R3, blue_R4, blue_R5, blue_R6, blue_R7, blue_R8, blue_R9, blue_R10, blue_R11, blue_R12];
const redTrueBin  = [3,3,0,0,0,0,0,0,0,0,0,0];
const redTrueVal  = ["34.0","35.0","0.0","0.0","0.0","0.0","0.0","0.0","0.0","0.0","0.0","0.0"];
const blueTrueBin = [1,2,0,0,0,0,0,0,0,0,0,0];
const blueTrueVal = ["19.0","20.0","0.0","0.0","0.0","0.0","0.0","0.0","0.0","0.0","0.0","0.0"];

// ---------- layout / style (kept apart from data) ----------
const redLegendLoc  = ["lower right","upper center","upper center","center right","center right","center right","upper right","upper right","upper right","upper right","upper right","upper right"];
const blueLegendLoc = ["lower right","upper left","upper right","center right","center right","center right","upper left","upper left","upper left","upper right","upper right","upper left"];
const binDash = [null,"7.4,3.2","2,3.3","12.8,3.2,2,3.2",null,null,"7.4,3.2","2,3.3","12.8,3.2,2,3.2"];
const FONT = "DejaVu Sans";

function drawPanel(team, r) {
  const isRed = team === "Red";
  const series = (isRed ? redData : blueData)[r];
  const tb = (isRed ? redTrueBin : blueTrueBin)[r];
  const tv = (isRed ? redTrueVal : blueTrueVal)[r];
  const loc = (isRed ? redLegendLoc : blueLegendLoc)[r];
  const W = 1250, H = 500, mt = 27, mb = 29;
  const ml = isRed ? 36 : 44, mr = isRed ? 8 : 1;
  const col = isRed ? "#ff0000" : "#0000ff";
  const dark = isRed ? "#7a0000" : "#00007a";
  const maxPct = d3.max(series, s => d3.max(s));
  const ymax = maxPct / 100 * 1.15;
  const yMaj = majorY.filter(v => v <= ymax + 1e-9);
  const yMin = minorY.filter(v => v <= ymax);

  const marks = [
    Plot.ruleX(minorX, {stroke: "#d6d6d6", strokeWidth: 0.8, strokeDasharray: "3,2"}),
    Plot.ruleY(yMin, {stroke: "#d6d6d6", strokeWidth: 0.8, strokeDasharray: "3,2"}),
    Plot.ruleX(majorX, {stroke: "#b0b0b0", strokeWidth: 1}),
    Plot.ruleY(yMaj, {stroke: "#b0b0b0", strokeWidth: 1}),
    Plot.ruleX(roundX, {stroke: "black", strokeWidth: 1.5}),
    Plot.text(roundLabels, {x: (d, i) => roundX[i], y: () => ymax * 0.942, fill: "#808080", fontSize: 11, dx: 2, fontFamily: FONT})
  ];
  series.forEach((arr, b) => {
    const pts = arr.map((v, i) => ({x: xs[i], y: v / 100})).filter(d => d.x !== undefined);
    const dash = binDash[b] || undefined;
    marks.push(Plot.line(pts, {x: "x", y: "y", stroke: col, strokeWidth: 2.6, strokeDasharray: dash}));
    marks.push(Plot.line(pts, {x: "x", y: "y", stroke: b === tb ? "black" : dark, strokeWidth: 1.4, strokeDasharray: dash}));
    if (b === 4) marks.push(Plot.dot(pts, {x: "x", y: "y", r: 4.3, fill: b === tb ? "black" : col, stroke: "none"}));
  });
  marks.push(
    Plot.axisX({ticks: minorX, tickSize: 3, tickFormat: () => "", label: null}),
    Plot.axisX({ticks: majorX, tickSize: 5, tickPadding: 4, fontSize: 12, label: null, tickFormat: d => String(d)}),
    Plot.axisY({ticks: yMin, tickSize: 3, tickFormat: () => "", label: null}),
    Plot.axisY({ticks: yMaj, tickSize: 5, tickPadding: 4, fontSize: 12, label: null, tickFormat: d => d.toFixed(1)}),
    Plot.frame({stroke: "black", strokeWidth: 1.3}),
    Plot.text([`${team} total_strikes_attempted R${r + 1}`], {frameAnchor: "top", dy: -15, fontSize: 16.5, fill: "black", fontFamily: FONT})
  );

  const svgEl = Plot.plot({
    width: W, height: H,
    marginTop: mt, marginBottom: mb, marginLeft: ml, marginRight: mr,
    x: {domain: [-16, 336]},
    y: {domain: [0, ymax]},
    style: {fontFamily: FONT, color: "black", background: "white"},
    marks
  });
  document.getElementById("root").appendChild(svgEl);

  // legend (drawn over the plot, semi-transparent box)
  const svg = d3.select(svgEl);
  const g = svg.append("g").attr("font-family", FONT).attr("font-size", 13.4).attr("text-anchor", "start");
  const rowH = 20.9, padTop = 11, textX = 45, padR = 7, boxH = 192;
  const labels = binLabels.map((s, i) => i === tb ? `${s} (True:${tv})` : s);
  const texts = labels.map((s, i) => g.append("text").attr("x", textX).attr("y", padTop + i * rowH)
    .attr("dy", "0.35em").attr("fill", "black").attr("text-anchor", "start").text(s));
  const tw = d3.max(texts, t => t.node().getComputedTextLength());
  const boxW = textX + tw + padR;
  const left = ml, right = W - mr, top = mt, bottom = H - mb, pad = 8;
  let lx, ly;
  if (loc === "lower right") { lx = right - pad - boxW; ly = bottom - pad - boxH; }
  else if (loc === "upper center") { lx = (left + right) / 2 - boxW / 2; ly = top + pad; }
  else if (loc === "upper left") { lx = left + pad; ly = top + pad; }
  else if (loc === "upper right") { lx = right - pad - boxW; ly = top + pad; }
  else { lx = right - pad - boxW; ly = (top + bottom) / 2 - boxH / 2; }
  g.attr("transform", `translate(${lx},${ly})`);
  g.insert("rect", ":first-child").attr("width", boxW).attr("height", boxH).attr("rx", 3)
    .attr("fill", "white").attr("fill-opacity", 0.8).attr("stroke", "#cccccc").attr("stroke-width", 1);
  labels.forEach((s, i) => {
    const y = padTop + i * rowH;
    const c = i === tb ? "black" : col;
    const ln = g.append("line").attr("x1", 5).attr("x2", 34).attr("y1", y).attr("y2", y)
      .attr("stroke", c).attr("stroke-width", 2.6);
    if (binDash[i]) ln.attr("stroke-dasharray", binDash[i]);
    if (i === 4) g.append("circle").attr("cx", 19.5).attr("cy", y).attr("r", 4.3).attr("fill", c);
  });
}

for (let r = 0; r < 12; r++) { drawPanel("Red", r); drawPanel("Blue", r); }
</script>
</body></html>
